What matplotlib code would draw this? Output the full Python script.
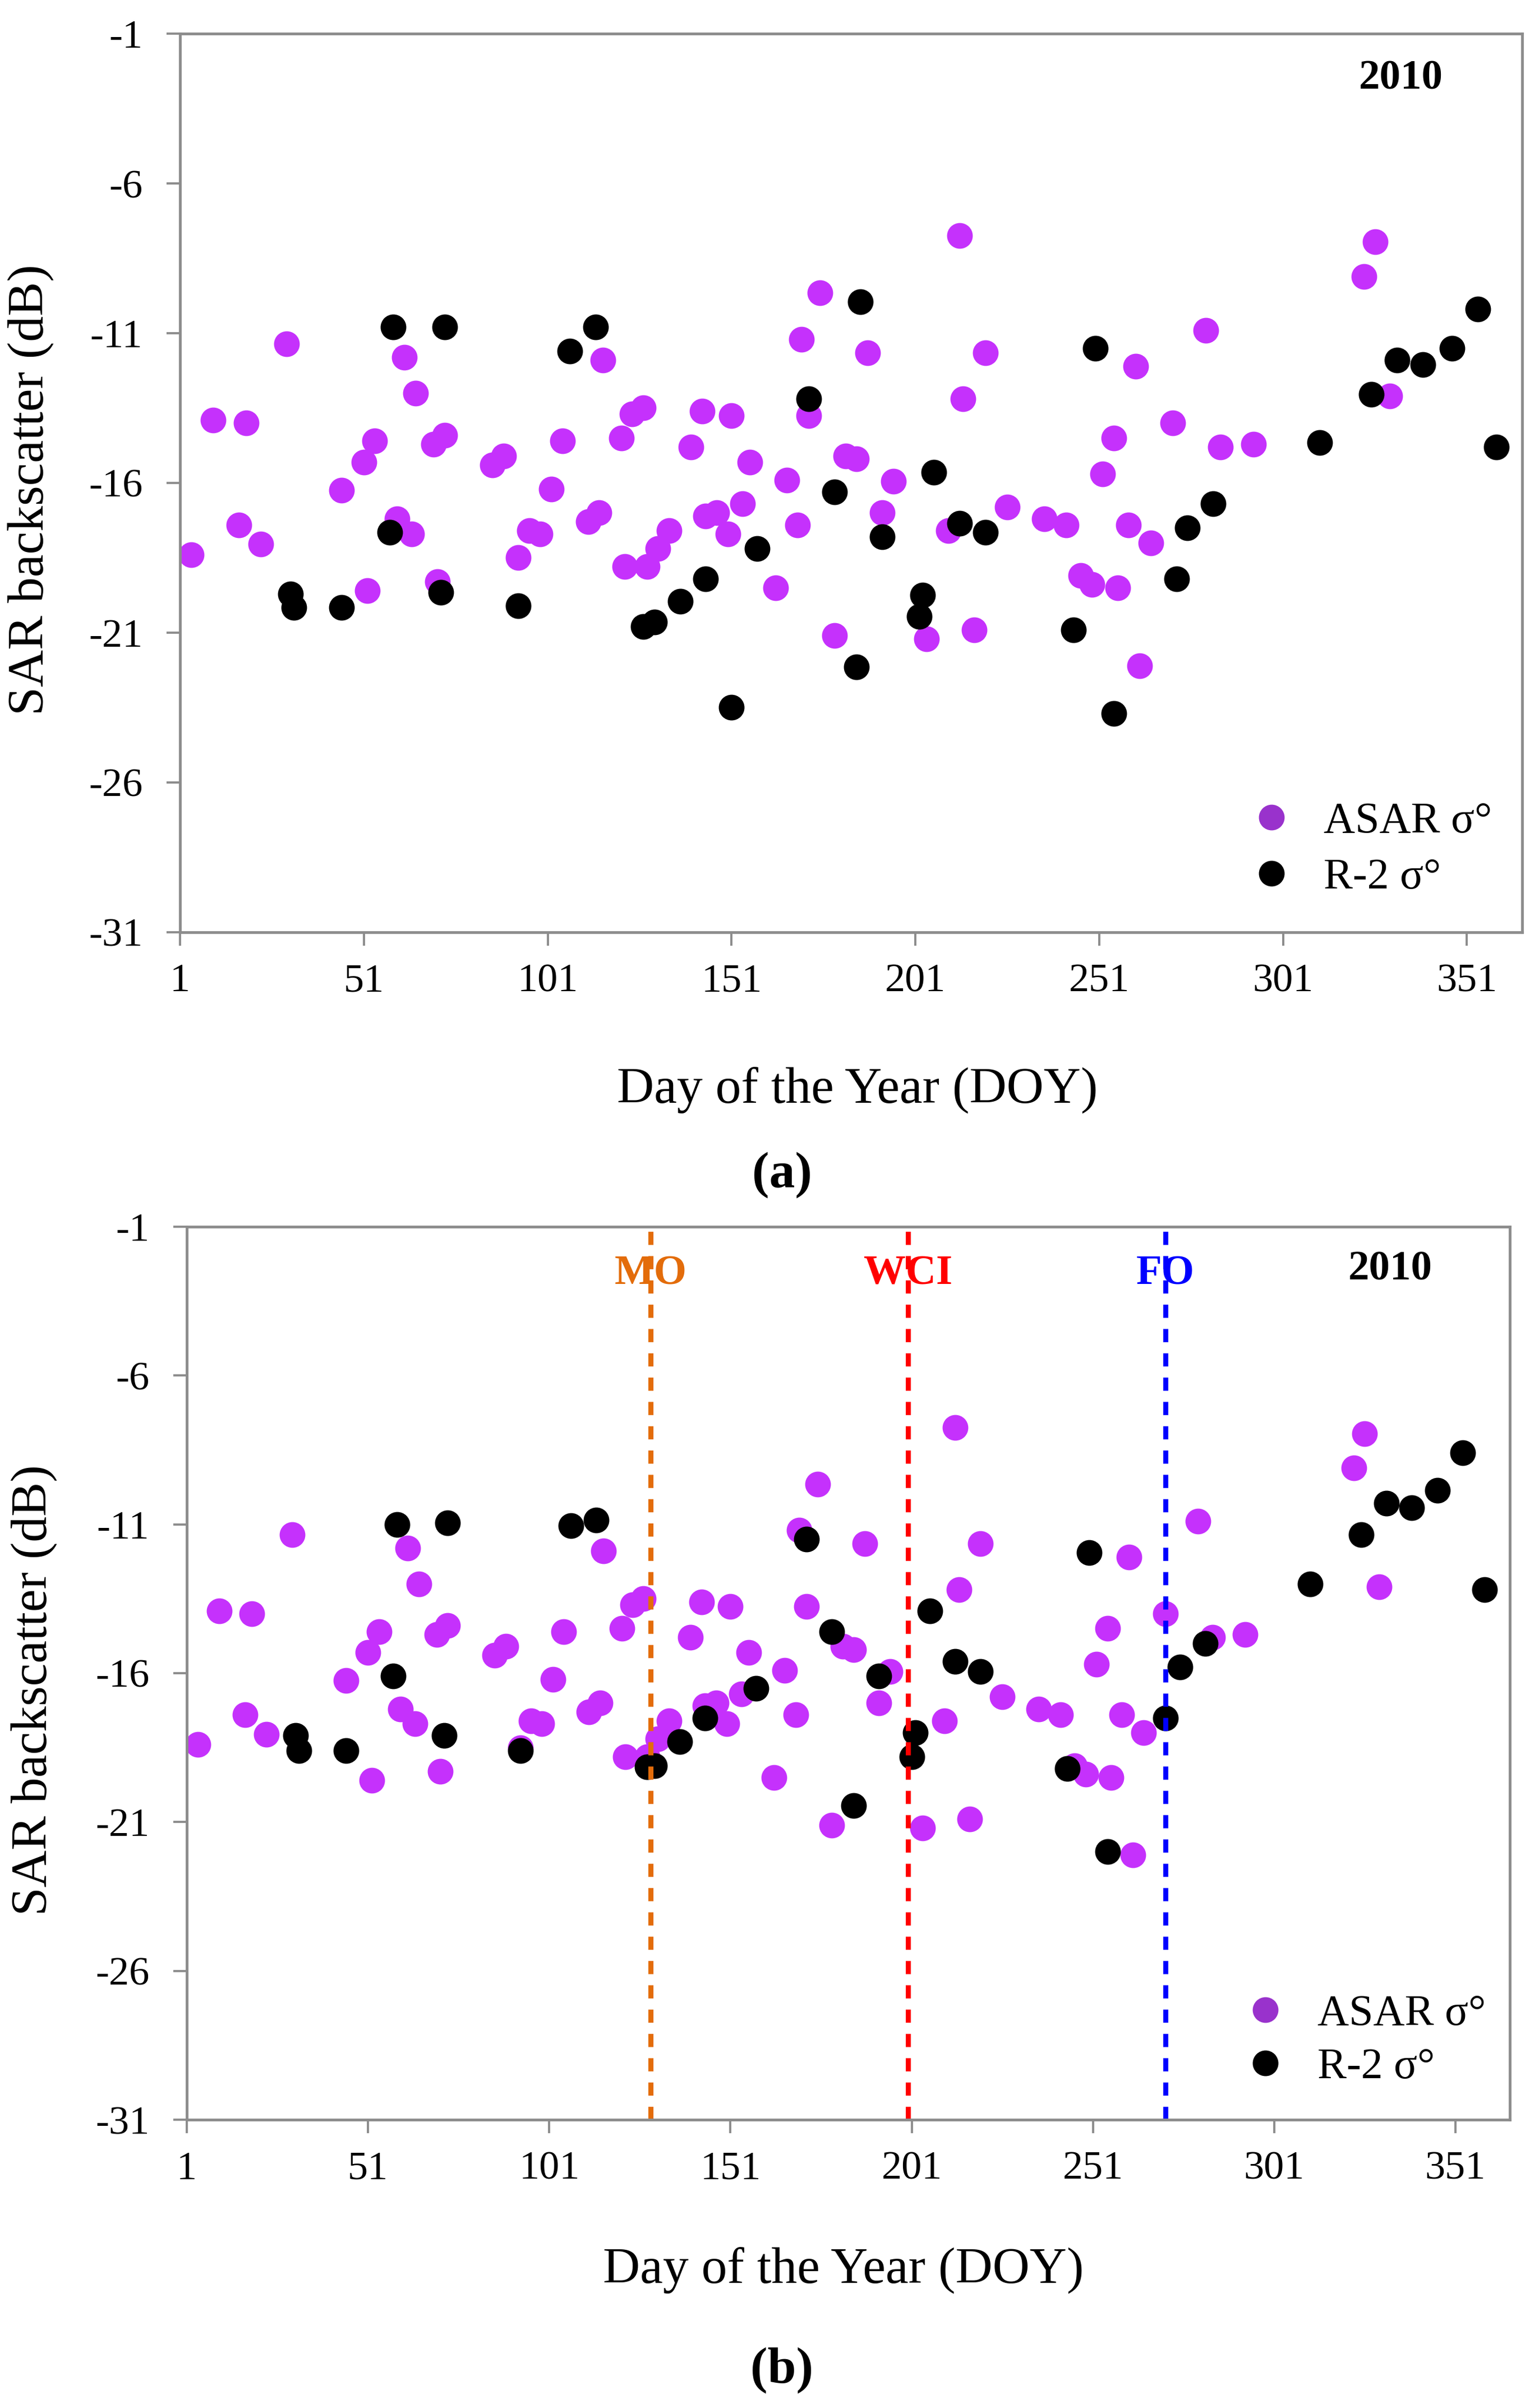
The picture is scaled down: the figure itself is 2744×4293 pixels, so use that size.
import matplotlib
matplotlib.use("Agg")
from matplotlib import pyplot as plt
from matplotlib.lines import Line2D

plt.rcParams['font.family'] = ['Liberation Serif', 'DejaVu Serif']
plt.rcParams['axes.unicode_minus'] = False

# ASAR sigma0 (same acquisitions in both panels)
asar_doy = [4, 10, 17, 19, 23, 30, 45, 51, 52, 54, 60, 62, 64, 65, 70, 71, 73,
            86, 89, 93, 96, 99, 102, 105, 112, 115, 116, 121, 122, 124, 127, 128,
            131, 134, 140, 143, 144, 147, 150, 151, 154, 156, 163, 166, 169, 170,
            172, 175, 179, 182, 185, 188, 192, 195, 204, 210, 213, 214, 217, 220,
            226, 236, 242, 246, 249, 252, 255, 256, 259, 261, 262, 265, 271, 280,
            284, 293, 323, 326, 330]
asar_db = [-18.4, -13.9, -17.4, -14.0, -18.05, -11.35, -16.25, -15.3, -19.6, -14.6,
           -17.2, -11.8, -17.7, -13.0, -14.7, -19.3, -14.4, -15.4, -15.1, -18.5,
           -17.6, -17.7, -16.2, -14.6, -17.3, -17.0, -11.9, -14.5, -18.8, -13.7,
           -13.5, -18.8, -18.2, -17.6, -14.8, -13.6, -17.1, -17.0, -17.7, -13.75,
           -16.7, -15.3, -19.5, -15.9, -17.4, -11.2, -13.75, -9.65, -21.1, -15.1,
           -15.2, -11.65, -17.0, -15.95, -21.2, -17.6, -7.75, -13.2, -20.9, -11.65,
           -16.8, -17.2, -17.4, -19.1, -19.4, -15.7, -14.5, -19.5, -17.4, -12.1,
           -22.1, -18.0, -14.0, -10.9, -14.8, -14.7, -9.1, -7.95, -13.1]

# RADARSAT-2 sigma0, panel (a)
r2a_doy = [31, 32, 45, 58, 59, 72, 73, 93, 107, 114, 127, 130, 137, 144, 151, 158,
           172, 179, 185, 186, 192, 203, 202, 206, 213, 220, 244, 250, 255, 272,
           275, 282, 311, 325, 332, 339, 347, 354, 359]
r2a_db = [-19.7, -20.15, -20.15, -17.65, -10.8, -19.65, -10.8, -20.1, -11.6, -10.8,
          -20.8, -20.65, -19.95, -19.2, -23.5, -18.2, -13.2, -16.3, -22.15, -9.95,
          -17.8, -19.75, -20.45, -15.65, -17.35, -17.65, -20.9, -11.5, -23.7, -19.2,
          -17.5, -16.7, -14.65, -13.05, -11.9, -12.05, -11.5, -10.2, -14.8]

# RADARSAT-2 sigma0, panel (b)
r2b_doy = [31, 32, 45, 58, 59, 72, 73, 93, 107, 114, 128, 130, 137, 144, 158, 172,
           179, 185, 192, 202, 201, 206, 213, 220, 244, 250, 255, 271, 275, 282,
           311, 325, 332, 339, 346, 353, 359]
r2b_db = [-18.1, -18.6, -18.6, -16.1, -11.0, -18.1, -10.95, -18.6, -11.05, -10.85,
          -19.15, -19.1, -18.3, -17.5, -16.5, -11.5, -14.6, -20.45, -16.1, -18.0,
          -18.8, -13.9, -15.6, -15.95, -19.2, -11.95, -22.0, -17.5, -15.8, -15.0,
          -13.0, -11.35, -10.3, -10.45, -9.85, -8.6, -13.2]

# crop stages (panel b)
stage_names = ['MO', 'WCI', 'FO']
stage_doy = [129, 200, 271]
stage_colors = ['#E36C0A', '#FF0000', '#0000FF']

xticks = [1, 51, 101, 151, 201, 251, 301, 351]
yticks = [-1, -6, -11, -16, -21, -26, -31]

PURPLE = '#C531FC'
GREY = '#8C8C8C'

fig = plt.figure(figsize=(27.44, 42.93), dpi=100)
ax_a = fig.add_axes([0.117, 0.6129, 0.872, 0.3731])
ax_b = fig.add_axes([0.1214, 0.1197, 0.8596, 0.3709])


def style_axes(ax):
    ax.set_xlim(1, 366)
    ax.set_ylim(-31, -1)
    ax.set_xticks(xticks)
    ax.set_yticks(yticks)
    for s in ax.spines.values():
        s.set_color(GREY)
        s.set_linewidth(3.5)
    ax.tick_params(axis='both', direction='out', length=17, width=2.8,
                   color=GREY, labelsize=52)
    ax.tick_params(axis='y', pad=31)
    ax.tick_params(axis='x', pad=23)


def add_legend(ax, anchor, spacing):
    handles = [Line2D([], [], ls='none', marker='o', ms=32, mfc='#9932CC', mec='#9932CC'),
               Line2D([], [], ls='none', marker='o', ms=32, mfc='black', mec='black')]
    ax.legend(handles, ['ASAR σ°', 'R-2 σ°'], loc='center left', bbox_to_anchor=anchor,
              frameon=False, fontsize=56, handlelength=1.0, handletextpad=0.7,
              borderpad=0, borderaxespad=0, labelspacing=spacing)


# panel (a)
ax_a.plot(asar_doy, asar_db, ls='none', marker='o', ms=32, color=PURPLE, mec=PURPLE)
ax_a.plot(r2a_doy, r2a_db, ls='none', marker='o', ms=32, color='black', mec='black')
style_axes(ax_a)
ax_a.text(333, -2.5, '2010', fontsize=54, fontweight='bold', ha='center', va='center')
add_legend(ax_a, (0.797, 0.0915), 0.36)

# panel (b)
ax_b.plot(asar_doy, asar_db, ls='none', marker='o', ms=32, color=PURPLE, mec=PURPLE)
ax_b.plot(r2b_doy, r2b_db, ls='none', marker='o', ms=32, color='black', mec='black')
for name, d, c in zip(stage_names, stage_doy, stage_colors):
    ax_b.axvline(d, color=c, lw=6.5, ls=(0, (2.6, 2.2)))
    ax_b.text(d, -2.6, name, color=c, fontsize=54, fontweight='bold',
              ha='center', va='center')
style_axes(ax_b)
ax_b.text(333, -2.45, '2010', fontsize=54, fontweight='bold', ha='center', va='center')
add_legend(ax_b, (0.7986, 0.088), 0.3)

# axis labels and captions
fig.text(0.020, 0.7966, 'SAR backscatter (dB)', rotation=90, fontsize=66,
         ha='center', va='center')
fig.text(0.022, 0.2982, 'SAR backscatter (dB)', rotation=90, fontsize=66,
         ha='center', va='center')
fig.text(0.557, 0.5474, 'Day of the Year (DOY)', fontsize=66, ha='center', va='center')
fig.text(0.548, 0.0573, 'Day of the Year (DOY)', fontsize=66, ha='center', va='center')
fig.text(0.508, 0.5122, '(a)', fontsize=66, fontweight='bold', ha='center', va='center')
fig.text(0.508, 0.0156, '(b)', fontsize=66, fontweight='bold', ha='center', va='center')

fig.savefig('out.png', dpi=100)
